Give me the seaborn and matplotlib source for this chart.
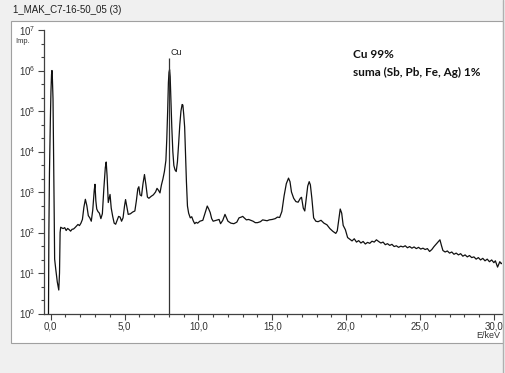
import numpy as np
import pandas as pd
import seaborn as sns
import matplotlib.pyplot as plt
from matplotlib.ticker import FixedLocator, FuncFormatter, MultipleLocator
from matplotlib.lines import Line2D
from matplotlib.patches import Rectangle

# spectrum, in pieces (E in keV, counts)
energy_noise = [-0.15, -0.12, -0.08, -0.02, 0.02, 0.06, 0.09, 0.12, 0.16, 0.20,
                0.24, 0.27, 0.35, 0.45, 0.55, 0.60, 0.64, 0.68, 0.75, 0.85,
                0.95, 1.05, 1.15, 1.25, 1.35, 1.45, 1.55, 1.65, 1.75, 1.85,
                1.95, 2.05]
counts_noise = [0.5, 100, 3e3, 6e4, 3e5, 8e5, 1.0e6, 6e5, 2e5, 1e4,
                300, 22, 12, 6, 3.8, 10, 100, 135, 130, 125,
                132, 112, 126, 118, 108, 120, 122, 132, 145, 158,
                148, 170]

energy_L = [2.15, 2.25, 2.35, 2.45, 2.55, 2.65, 2.75, 2.85, 2.95, 3.00,
            3.06, 3.12, 3.20, 3.30, 3.40, 3.50, 3.60, 3.70, 3.76, 3.82,
            3.90, 3.96, 4.02, 4.10, 4.20, 4.30, 4.40, 4.50, 4.60, 4.70,
            4.80, 4.90, 5.00, 5.07, 5.15, 5.25, 5.40, 5.55, 5.70, 5.80,
            5.90, 5.97, 6.05, 6.15, 6.25, 6.35, 6.45, 6.55, 6.65, 6.80,
            6.95, 7.10, 7.20, 7.30, 7.40, 7.50, 7.60, 7.70, 7.80]
counts_L = [210, 420, 660, 460, 260, 230, 190, 360, 1100, 1550,
            600, 380, 330, 300, 220, 290, 1200, 4000, 5500, 2500,
            550, 700, 870, 400, 250, 170, 160, 200, 250, 240,
            190, 230, 450, 650, 450, 280, 290, 320, 340, 600,
            1200, 1350, 850, 800, 1600, 2700, 1500, 750, 700, 780,
            850, 1000, 1230, 1100, 950, 1500, 2100, 3200, 6000]

energy_cu = [7.86, 7.92, 7.97, 8.01, 8.05, 8.09, 8.14, 8.20, 8.27, 8.34,
             8.42, 8.50, 8.58, 8.66, 8.74, 8.82, 8.90, 8.95, 9.01, 9.07,
             9.13, 9.19, 9.26, 9.34, 9.45, 9.55, 9.65, 9.75, 9.85, 9.95]
counts_cu = [2e4, 1e5, 5e5, 9e5, 1.05e6, 7e5, 2e5, 4e4, 1e4, 4500,
             3500, 3200, 5500, 1.5e4, 4.5e4, 1e5, 1.45e5, 1.4e5, 8e4, 4e4,
             8000, 1800, 450, 300, 230, 245, 195, 165, 178, 170]

energy_mid = [10.1, 10.3, 10.45, 10.6, 10.7, 10.8, 10.9, 11.0, 11.2, 11.4,
              11.5, 11.65, 11.8, 11.9, 12.0, 12.2, 12.4, 12.6, 12.75, 12.9,
              13.0, 13.1, 13.25, 13.4, 13.55, 13.7, 13.85, 14.0, 14.2, 14.35,
              14.5, 14.65, 14.8, 15.0, 15.2, 15.35, 15.5, 15.65, 15.8, 15.95,
              16.1, 16.2, 16.3, 16.45, 16.6, 16.75, 16.9, 16.98, 17.1, 17.2,
              17.3, 17.4, 17.5, 17.58, 17.68, 17.8, 17.95, 18.1, 18.3, 18.5,
              18.7, 18.9, 19.1, 19.3, 19.4, 19.5, 19.6, 19.7, 19.8, 19.95,
              20.1]
counts_mid = [190, 200, 300, 450, 380, 310, 220, 190, 200, 210,
              165, 200, 280, 230, 190, 170, 165, 180, 230, 240,
              250, 230, 205, 210, 200, 190, 175, 175, 185, 205,
              200, 195, 205, 210, 220, 240, 235, 330, 800, 1600,
              2200, 1800, 1000, 700, 580, 560, 700, 740, 400, 340,
              700, 1400, 1800, 1500, 700, 230, 190, 185, 200, 170,
              155, 125, 107, 95, 110, 200, 380, 300, 150, 117,
              75]

energy_tail = [20.25, 20.4, 20.55, 20.7, 20.85, 21.0, 21.15, 21.3, 21.45, 21.6,
               21.75, 21.9, 22.05, 22.2, 22.35, 22.5, 22.65, 22.8, 22.95, 23.1,
               23.25, 23.4, 23.55, 23.7, 23.85, 24.0, 24.15, 24.3, 24.45, 24.6,
               24.75, 24.9, 25.05, 25.2, 25.35, 25.5, 25.65, 25.8, 25.95,
               26.1, 26.25, 26.35, 26.45, 26.55, 26.7, 26.85, 27.0, 27.15, 27.3,
               27.45, 27.6, 27.75, 27.9, 28.05, 28.2, 28.35, 28.5, 28.65, 28.8,
               28.95, 29.1, 29.25, 29.4, 29.55, 29.7, 29.85, 30.0, 30.1, 30.25,
               30.4, 30.5, 30.6]
counts_tail = [68, 62, 70, 58, 63, 55, 60, 52, 57, 54,
               61, 58, 66, 60, 55, 58, 50, 53, 48, 51,
               45, 47, 43, 46, 44, 47, 42, 45, 41, 44,
               40, 43, 39, 41, 38, 40, 34, 38, 45,
               52, 60, 66, 48, 36, 33, 35, 31, 33, 29,
               31, 28, 30, 26, 28, 25, 27, 24, 25, 22,
               24, 21, 23, 20, 22, 19, 21, 18, 20, 14,
               19, 17, 18]

cu_line_kev = 8.04
cu_line_top = 2.0e6
title = '1_MAK_C7-16-50_05 (3)'
note_lines = ['Cu 99%', 'suma (Sb, Pb, Fe, Ag) 1%']

df = pd.DataFrame({
    'E': energy_noise + energy_L + energy_cu + energy_mid + energy_tail,
    'Imp': counts_noise + counts_L + counts_cu + counts_mid + counts_tail,
})

sns.set_style('white')
plt.rcParams['font.family'] = ['Liberation Sans', 'DejaVu Sans']
plt.rcParams['mathtext.fontset'] = 'custom'
plt.rcParams['mathtext.rm'] = 'Liberation Sans'

W, H = 505, 373
fig = plt.figure(figsize=(W / 100, H / 100), dpi=100)
fig.patch.set_facecolor('#f0f0f0')

# white panel of the window
panel = Rectangle((11 / W, 1 - 343 / H), (503 - 11) / W, (343 - 21) / H,
                  transform=fig.transFigure, facecolor='white',
                  edgecolor='#a0a0a0', lw=0.8, zorder=0)
fig.add_artist(panel)
fig.add_artist(Line2D([503 / W, 503 / W], [0, 1], color='#b0b0b0', lw=1.0,
                      transform=fig.transFigure))
fig.text(13 / W, 1 - 10 / H, title, fontsize=7, va='center', color='#202020')

ax = fig.add_axes([44 / W, 1 - 313.5 / H, (502 - 44) / W, (313.5 - 30) / H])
ax.set_facecolor('none')

sns.lineplot(data=df, x='E', y='Imp', ax=ax, color='#111111', linewidth=0.9,
             sort=False)
ax.set_yscale('log')
ax.set_xlim(-0.45, 30.55)
ax.set_ylim(1, 1e7)

ax.vlines(cu_line_kev, 1, cu_line_top, color='#333333', lw=0.9)
ax.text(cu_line_kev + 0.1, cu_line_top * 1.05, 'Cu', fontsize=6.5,
        ha='left', va='bottom', color='#222222')

for s in ['top', 'right']:
    ax.spines[s].set_visible(False)
for s in ['left', 'bottom']:
    ax.spines[s].set_color('#404040')
    ax.spines[s].set_linewidth(0.9)

ax.xaxis.set_major_locator(MultipleLocator(5))
ax.xaxis.set_minor_locator(MultipleLocator(1))
ax.xaxis.set_major_formatter(FuncFormatter(lambda v, p: f'{v:.1f}'.replace('.', ',')))
ax.yaxis.set_major_locator(FixedLocator([10.0 ** k for k in range(8)]))
ax.yaxis.set_minor_locator(FixedLocator([10.0 ** (k + f) for k in range(7) for f in (1 / 3, 2 / 3)]))
ax.yaxis.set_major_formatter(FuncFormatter(lambda v, p: r'$\mathregular{10^{%d}}$' % round(np.log10(v))))
ax.yaxis.set_minor_formatter(FuncFormatter(lambda v, p: ''))

ax.tick_params(which='major', direction='out', length=4, width=0.8,
               color='#404040', labelcolor='#333333', labelsize=7, pad=2)
ax.tick_params(which='minor', direction='out', length=2.5, width=0.8,
               color='#404040')
ax.tick_params(axis='x', which='both', bottom=True)
ax.tick_params(axis='y', which='both', left=True)
ax.set_xlabel('')
ax.set_ylabel('')

fig.text(15 / W, 1 - 41.5 / H, 'Imp.', fontsize=5.5, va='center', color='#333333')
fig.text(500 / W, 1 - 336 / H, 'E/keV', fontsize=6.5, ha='right', va='center',
         color='#333333')

fig.text(353 / W, 1 - 55 / H, note_lines[0], fontsize=8.5, fontweight='bold',
         family='Lato', va='center', color='#111111')
fig.text(353 / W, 1 - 72 / H, note_lines[1], fontsize=8.5, fontweight='bold',
         family='Lato', va='center', color='#111111')

fig.savefig('out.png', dpi=100, facecolor=fig.get_facecolor())
